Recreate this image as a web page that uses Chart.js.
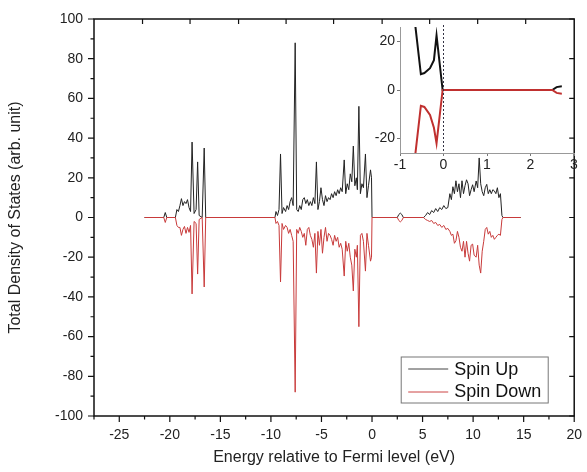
<!DOCTYPE html>
<html>
<head>
<meta charset="utf-8">
<script src="https://cdn.jsdelivr.net/npm/chart.js@4.4.0/dist/chart.umd.min.js"></script>
<style>
  body { margin: 0; background: #fff; }
  #wrap { position: relative; width: 587px; height: 472px; }
  #main { position: absolute; left: 0; top: 0; }
  #inset { position: absolute; left: 350px; top: 12px; }
</style>
</head>
<body>
<div id="wrap">
  <canvas id="main" width="587" height="472"></canvas>
  <canvas id="inset" width="232" height="165"></canvas>
</div>
<script>
// energy grid (eV) and total DOS for both spins
const energy = [
  -22.5, -20.6, -20.45, -20.3,
  -19.45, -19.3, -19.15, -19.0, -18.85, -18.7, -18.55, -18.4, -18.25, -18.1, -17.95, -17.8, -17.6, -17.4, -17.25, -17.1, -16.8, -16.6, -16.45,
  -9.6, -9.5, -9.35, -9.2, -9.05, -8.9, -8.75, -8.55, -8.4, -8.25, -8.1, -7.95, -7.8, -7.6, -7.45, -7.3, -7.15, -7.0,
  -6.85, -6.7, -6.55, -6.4, -6.25, -6.1, -5.95, -5.8, -5.65, -5.5, -5.35, -5.2, -5.05, -4.9, -4.75, -4.6, -4.45, -4.3, -4.15, -4.0,
  -3.85, -3.7, -3.55, -3.4, -3.25, -3.1, -2.95, -2.75, -2.6, -2.45, -2.3, -2.15, -2.0, -1.85, -1.7, -1.55, -1.45, -1.3, -1.15, -1.0,
  -0.85, -0.65, -0.5, -0.35, -0.15, -0.05, 0,
  2.5, 2.65, 2.8, 2.95, 3.1,
  5.1, 5.3, 5.5, 5.7, 5.9, 6.1, 6.3, 6.5, 6.7, 6.9, 7.1, 7.3, 7.5,
  7.7, 7.85, 8.0, 8.15, 8.3, 8.45, 8.6, 8.75, 8.9, 9.05, 9.2, 9.35, 9.5, 9.65, 9.8, 9.95,
  10.1, 10.3, 10.45, 10.6, 10.75, 10.9, 11.05, 11.2, 11.35, 11.5, 11.65, 11.8, 11.95, 12.1, 12.25, 12.4, 12.55, 12.7, 12.85, 12.95, 14.7
];
const spinUp = [
  0, 0, 2.5, 0,
  0, 4, 3, 6, 9.5, 6, 8, 7, 9, 5, 3, 38, 2, 4, 28, 1, 0, 35, 0,
  0, 3, 1, 4, 32, 2, 5, 3, 6, 4, 8, 10, 6, 88, 4, 3, 6, 4,
  9, 10, 7, 9, 6, 8, 6, 10, 7, 28, 4, 8, 15, 9, 6, 11, 8, 10, 9, 12,
  10, 13, 11, 14, 12, 15, 13, 29, 12, 17, 14, 22, 18, 36, 16, 20, 14, 56, 12, 17,
  15, 32, 10, 16, 24, 20, 0,
  0, 1.5, 2.2, 1.5, 0,
  0, 1, 2.5, 1.5, 3.5, 2.5, 4.5, 3, 5, 4, 6, 4.5, 5,
  12, 9, 15.5, 12, 18.5, 13, 17, 10, 18.5, 12, 16, 19, 17, 11, 14, 16.5,
  13, 18.4, 15, 30, 17, 13, 11, 15, 16.7, 12, 14, 12, 14, 13.4, 12, 15, 10, 12, 1, 0, 0
];
const spinDown = [
  0, 0, -2.5, 0,
  0, -4, -5, -5, -9, -6, -4.5, -8, -5, -7.5, -4, -38.5, -2, -3, -28.5, -1, 0, -35, 0,
  0, -3, -2, -4, -32.5, -3, -6, -4, -5, -8, -6, -9, -12, -88, -6, -8, -5, -7,
  -10, -8, -14, -6, -5, -9, -11, -15, -8, -28, -7, -14, -6, -18, -10, -5, -12, -8, -9, -11,
  -14, -9, -12, -10, -15, -13, -16, -29.5, -12, -17, -13, -20, -24, -37, -16, -20, -14, -55, -9, -8,
  -12, -27, -8, -14, -22, -20, 0,
  0, -1.5, -2.2, -1.5, 0,
  0, -1, -1.5, -2, -1.5, -3, -2.5, -4, -3.5, -5, -4, -6, -5.5,
  -7, -9, -8.4, -13, -11.7, -7, -10, -15, -17, -12, -20, -12, -18, -22, -14, -13.4,
  -19, -20, -14, -24, -28, -17, -12, -6, -5, -8.4, -7, -10, -9, -11, -10, -9, -8.4, -9, -1, 0, 0
];

// inset: close-up around the Fermi level
const insetEnergy = [-0.67, -0.52, -0.44, -0.31, -0.22, -0.16, -0.02, 2.5, 2.6, 2.72];
const insetUp = [30, 6.5, 7, 9, 12.3, 22.5, 0, 0, 1.2, 1.5];
const insetDown = [-30, -6.5, -7, -10.3, -15.6, -22, 0, 0, -1.2, -1.5];

const xTicks = [-25, -20, -15, -10, -5, 0, 5, 10, 15, 20];
const topTicks = [-22.7, -18.0, -13.2, -8.5, -3.8, 1.0, 5.7, 10.45, 15.2];  // top axis ticks are not aligned with the bottom ones
const yTicks = [-100, -80, -60, -40, -20, 0, 20, 40, 60, 80, 100];
const insetXTicks = [-1, 0, 1, 2, 3];
const insetYTicks = [-20, 0, 20];

Chart.defaults.font.family = "'Liberation Sans', Arial, sans-serif";
Chart.defaults.color = '#222';

function toPoints(xs, ys) {
    return xs.map((x, i) => ({ x: x, y: ys[i] }));
}

// frame, tick marks and legend box for the main plot
const mainDecor = {
    id: 'mainDecor',
    afterDraw(chart) {
        const ctx = chart.ctx;
        const a = chart.chartArea;
        const x = chart.scales.x, y = chart.scales.y;
        ctx.save();
        ctx.strokeStyle = '#111';
        ctx.lineWidth = 1.5;
        ctx.strokeRect(a.left, a.top, a.right - a.left, a.bottom - a.top);

        ctx.lineWidth = 1.2;
        ctx.beginPath();
        xTicks.forEach(function (v) {
            const px = x.getPixelForValue(v);
            ctx.moveTo(px, a.bottom); ctx.lineTo(px, a.bottom + 6);
            const m = x.getPixelForValue(v - 2.5);
            ctx.moveTo(m, a.bottom); ctx.lineTo(m, a.bottom + 3.5);
        });
        topTicks.forEach(function (v) {
            const px = x.getPixelForValue(v);
            ctx.moveTo(px, a.top); ctx.lineTo(px, a.top + 5);
        });
        yTicks.forEach(function (v) {
            const py = y.getPixelForValue(v);
            ctx.moveTo(a.left, py); ctx.lineTo(a.left - 6, py);
            ctx.moveTo(a.right, py); ctx.lineTo(a.right - 5, py);
            if (v < 100) {
                const m = y.getPixelForValue(v + 10);
                ctx.moveTo(a.left, m); ctx.lineTo(a.left - 3.5, m);
            }
        });
        ctx.stroke();

        // legend
        const bx = a.right - 173, by = a.bottom - 59;
        ctx.strokeStyle = '#777';
        ctx.lineWidth = 1;
        ctx.strokeRect(bx, by, 147, 46);
        ctx.strokeStyle = '#444';
        ctx.beginPath(); ctx.moveTo(bx + 7, by + 12); ctx.lineTo(bx + 47, by + 12); ctx.stroke();
        ctx.strokeStyle = '#cc4444';
        ctx.beginPath(); ctx.moveTo(bx + 7, by + 35); ctx.lineTo(bx + 47, by + 35); ctx.stroke();
        ctx.fillStyle = '#111';
        ctx.font = "18px 'Liberation Sans', Arial, sans-serif";
        ctx.textBaseline = 'middle';
        ctx.fillText(chart.data.datasets[1].label, bx + 53, by + 13);
        ctx.fillText(chart.data.datasets[0].label, bx + 53, by + 35);
        ctx.restore();
    }
};

new Chart(document.getElementById('main'), {
    type: 'line',
    data: {
        datasets: [{
            label: 'Spin Down',
            data: toPoints(energy, spinDown),
            borderColor: '#c83a3a',
            borderWidth: 1,
            pointRadius: 0,
            order: 0
        }, {
            label: 'Spin Up',
            data: toPoints(energy, spinUp),
            borderColor: '#222',
            borderWidth: 1,
            pointRadius: 0,
            order: 1
        }]
    },
    options: {
        responsive: false,
        animation: false,
        layout: { padding: { top: 19, right: 8, left: 0, bottom: 0 } },
        plugins: { legend: { display: false }, tooltip: { enabled: false } },
        scales: {
            x: {
                type: 'linear',
                min: -27.5,
                max: 20,
                afterBuildTicks: function (s) { s.ticks = xTicks.map(v => ({ value: v })); },
                afterFit: function (s) { s.height = 56; },
                grid: { display: false, drawTicks: true, tickLength: 6 },
                border: { display: false },
                ticks: { font: { size: 14 }, padding: 5, maxRotation: 0 },
                title: { display: true, text: 'Energy relative to Fermi level (eV)', font: { size: 16 }, padding: { top: 0, bottom: 5 } }
            },
            y: {
                min: -100,
                max: 100,
                afterBuildTicks: function (s) { s.ticks = yTicks.map(v => ({ value: v })); },
                afterFit: function (s) { s.width = 94; },
                grid: { display: false, drawTicks: true, tickLength: 6 },
                border: { display: false },
                ticks: { font: { size: 14 }, padding: 5 },
                title: { display: true, text: 'Total Density of States (arb. unit)', font: { size: 16 }, padding: { top: 6, bottom: 0 } }
            }
        }
    },
    plugins: [mainDecor]
});

// dotted Fermi line in the inset
const fermiLine = {
    id: 'fermiLine',
    afterDatasetsDraw(chart) {
        const ctx = chart.ctx, a = chart.chartArea;
        const px = chart.scales.x.getPixelForValue(0);
        ctx.save();
        ctx.strokeStyle = '#334';
        ctx.lineWidth = 1;
        ctx.setLineDash([2, 2]);
        ctx.beginPath();
        ctx.moveTo(px, a.top - 2);
        ctx.lineTo(px, a.bottom);
        ctx.stroke();
        ctx.restore();
    }
};

new Chart(document.getElementById('inset'), {
    type: 'line',
    data: {
        datasets: [{
            data: toPoints(insetEnergy, insetDown),
            borderColor: '#c0302f',
            borderWidth: 2,
            pointRadius: 0,
            order: 0
        }, {
            data: toPoints(insetEnergy, insetUp),
            borderColor: '#111',
            borderWidth: 2,
            pointRadius: 0,
            order: 1
        }]
    },
    options: {
        responsive: false,
        animation: false,
        layout: { padding: { top: 15, right: 8, left: 0, bottom: 0 } },
        plugins: { legend: { display: false }, tooltip: { enabled: false } },
        scales: {
            x: {
                type: 'linear',
                min: -1,
                max: 3,
                afterBuildTicks: function (s) { s.ticks = insetXTicks.map(v => ({ value: v })); },
                afterFit: function (s) { s.height = 24; },
                grid: { display: true, drawOnChartArea: false, drawTicks: true, tickLength: 3, color: '#777' },
                border: { display: true, color: '#999', width: 1 },
                ticks: { font: { size: 14 }, padding: 1, maxRotation: 0 }
            },
            y: {
                min: -26,
                max: 26,
                afterBuildTicks: function (s) { s.ticks = insetYTicks.map(v => ({ value: v })); },
                afterFit: function (s) { s.width = 50; },
                grid: { display: true, drawOnChartArea: false, drawTicks: true, tickLength: 3, color: '#777' },
                border: { display: true, color: '#999', width: 1 },
                ticks: { font: { size: 14 }, padding: 2 }
            }
        }
    },
    plugins: [fermiLine]
});
</script>
</body>
</html>
